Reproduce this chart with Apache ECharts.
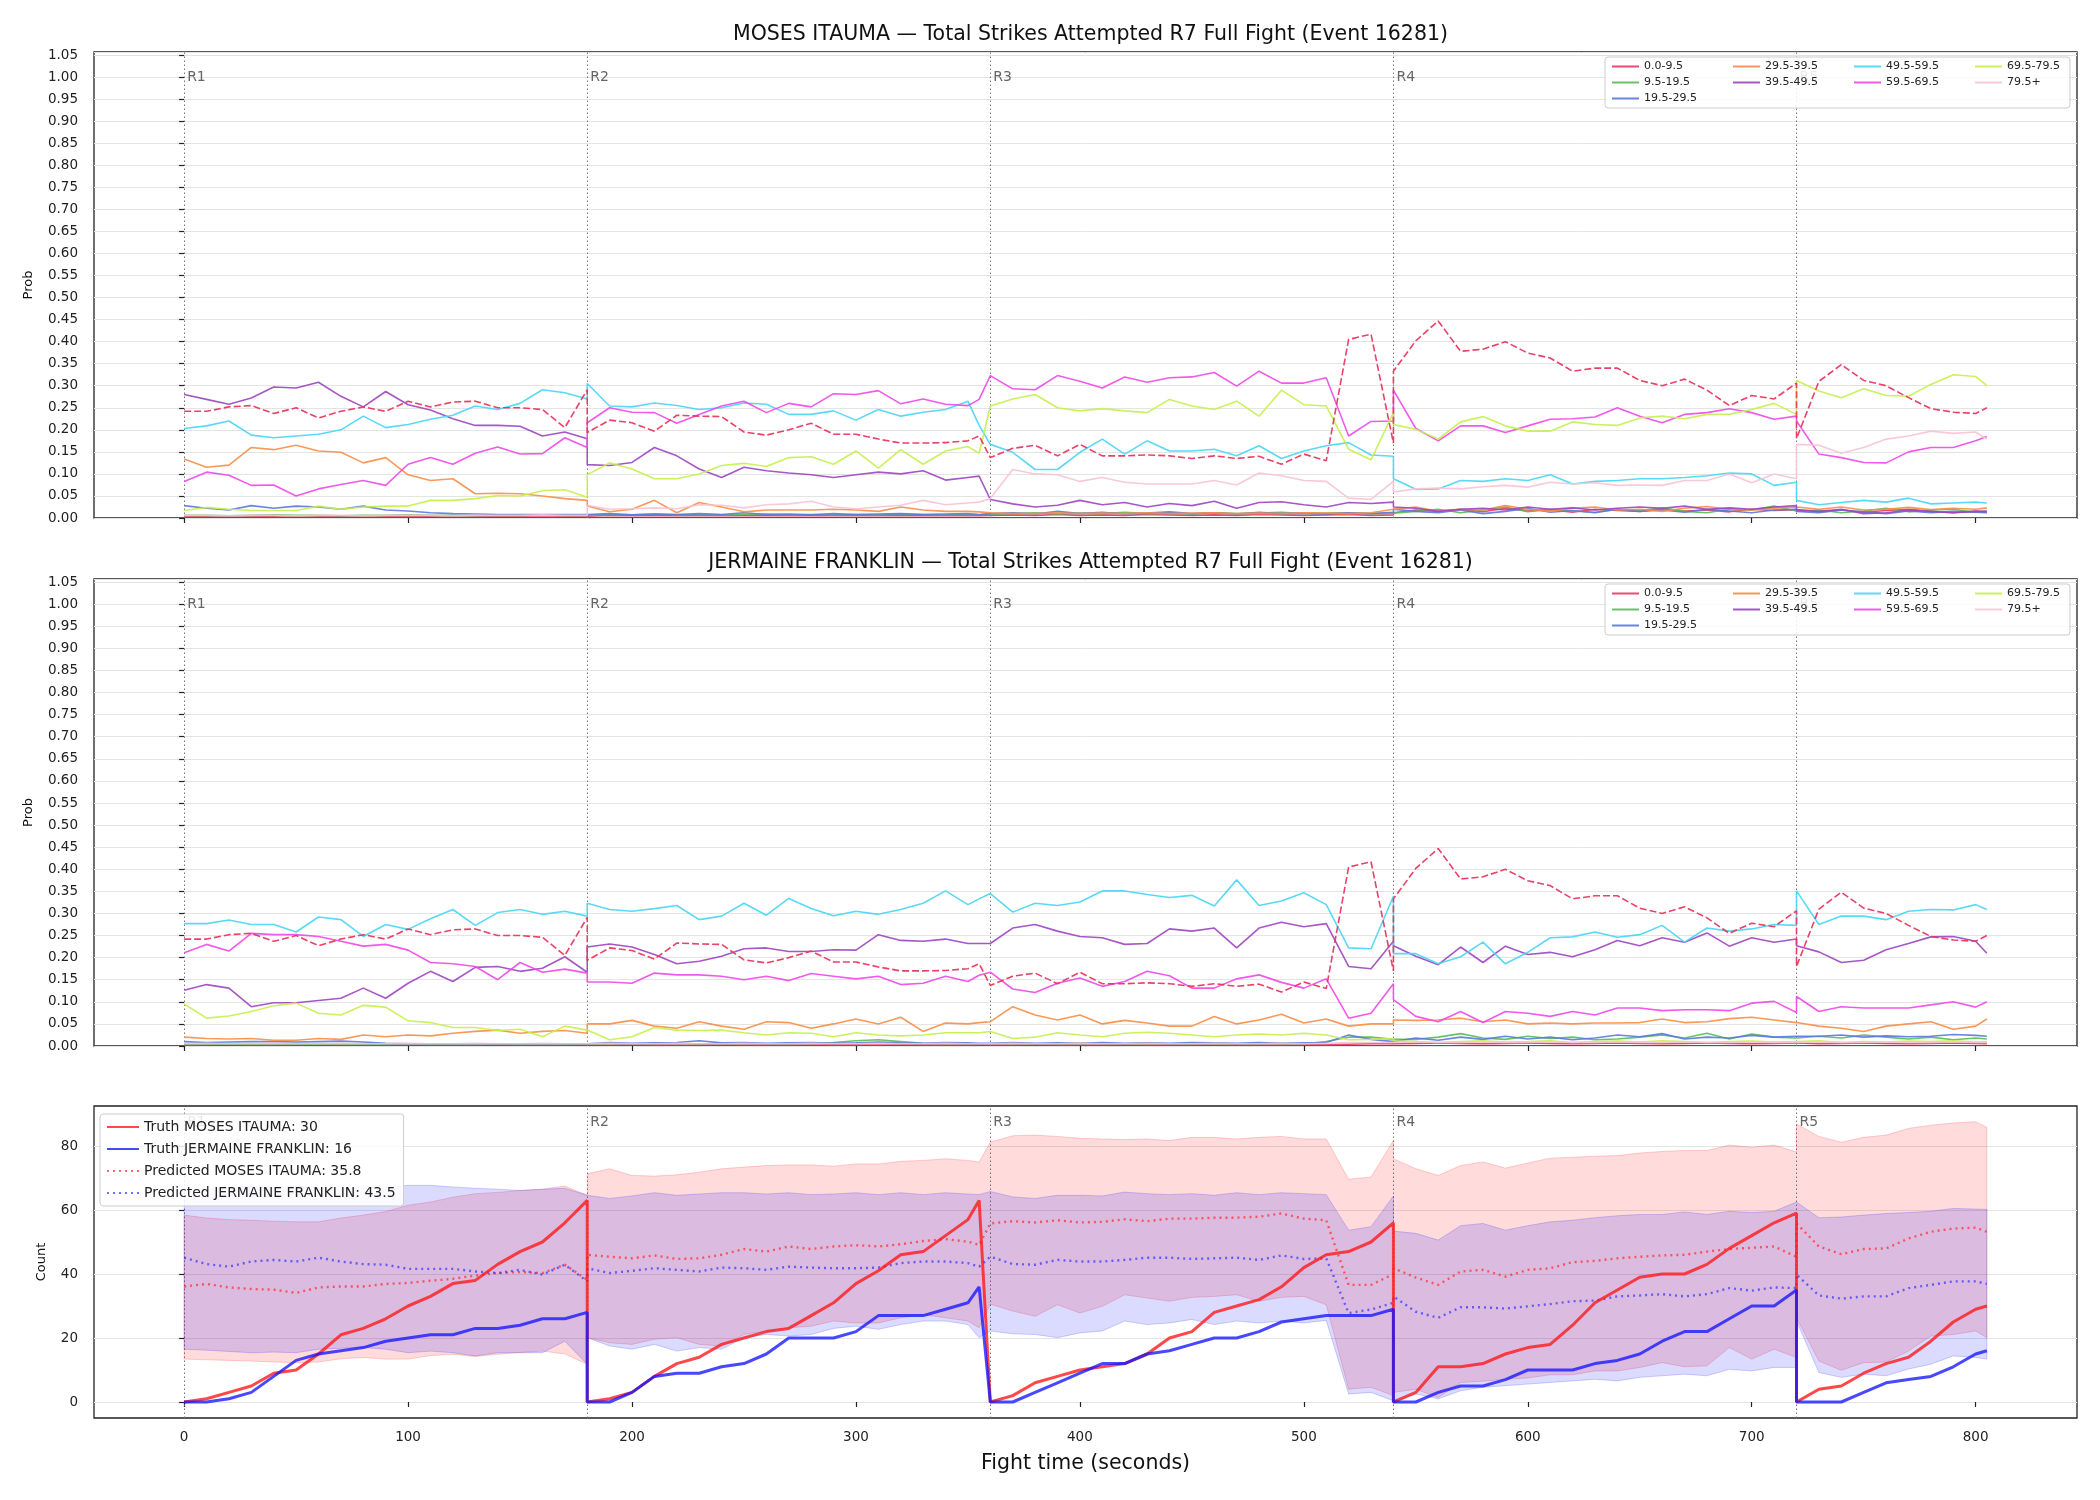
<!DOCTYPE html>
<html>
<head>
<meta charset="utf-8">
<script src="https://cdn.jsdelivr.net/npm/echarts@6/dist/echarts.min.js"></script>
<style>
  html, body { margin: 0; background: #fff; }
  #chart { width: 2100px; height: 1500px; }
</style>
</head>
<body>
<div id="chart"></div>
<script>
// time samples (s); round boundaries repeated so the jumps are vertical
const T = [
  0,10,20,30,40,50,60,70,80,90,100,110,120,130,140,150,160,170,180,
  180,190,200,210,220,230,240,250,260,270,280,290,300,310,320,330,340,350,355,
  360,370,380,390,400,410,420,430,440,450,460,470,480,490,500,510,520,530,540,
  540,550,560,570,580,590,600,610,620,630,640,650,660,670,680,690,700,710,720,
  720,730,740,750,760,770,780,790,800,805
];
const ROUNDS = [0, 180, 360, 540, 720];
const X_TICKS = [0, 100, 200, 300, 400, 500, 600, 700, 800];
const COUNT_TICKS = [0, 20, 40, 60, 80];

const BINS = ['0.0-9.5','9.5-19.5','19.5-29.5','29.5-39.5','39.5-49.5','49.5-59.5','59.5-69.5','69.5-79.5','79.5+'];
const BIN_COLORS = ['#e8375f','#57bd57','#5a78e0','#f98d45','#9d44c0','#48d5f5','#f047e8','#c5ef4a','#f8c3d4'];

// dashed line, same in both probability panels
const dashed = [
  0.242,0.242,0.252,0.255,0.237,0.25,0.227,0.242,0.252,0.242,0.265,0.252,0.263,0.265,0.25,0.25,0.246,0.205,0.291,
  0.194,0.222,0.216,0.197,0.233,0.231,0.23,0.195,0.188,0.2,0.215,0.19,0.19,0.179,0.17,0.17,0.171,0.175,0.186,
  0.137,0.158,0.165,0.141,0.167,0.141,0.141,0.143,0.141,0.135,0.141,0.135,0.14,0.122,0.145,0.13,0.405,0.417,0.17,
  0.333,0.402,0.447,0.378,0.383,0.4,0.374,0.363,0.333,0.34,0.34,0.312,0.3,0.315,0.29,0.255,0.278,0.27,0.306,
  0.18,0.31,0.348,0.312,0.3,0.273,0.248,0.24,0.237,0.25
];

// MOSES ITAUMA bins
const m0 = [
  0.004,0.004,0.005,0.004,0.004,0.005,0.004,0.004,0.005,0.004,0.004,0.004,0.005,0.004,0.004,0.004,0.005,0.004,0.004,
  0.005,0.006,0.005,0.005,0.006,0.005,0.005,0.006,0.005,0.005,0.006,0.005,0.005,0.006,0.005,0.005,0.006,0.005,0.005,
  0.006,0.007,0.006,0.008,0.006,0.007,0.006,0.008,0.007,0.006,0.007,0.006,0.008,0.007,0.006,0.007,0.008,0.006,0.007,
  0.012,0.018,0.015,0.02,0.014,0.022,0.016,0.019,0.013,0.02,0.017,0.015,0.021,0.016,0.018,0.014,0.02,0.017,0.019,
  0.016,0.014,0.018,0.013,0.017,0.02,0.015,0.012,0.016,0.014
];
const m1 = [
  0.006,0.006,0.005,0.006,0.007,0.006,0.006,0.005,0.006,0.006,0.007,0.006,0.006,0.005,0.006,0.006,0.007,0.006,0.006,
  0.007,0.008,0.007,0.009,0.007,0.008,0.007,0.008,0.009,0.007,0.008,0.007,0.008,0.007,0.009,0.008,0.007,0.008,0.007,
  0.009,0.01,0.012,0.009,0.011,0.01,0.013,0.01,0.011,0.009,0.012,0.01,0.011,0.013,0.01,0.011,0.012,0.01,0.011,
  0.01,0.015,0.02,0.012,0.018,0.025,0.014,0.02,0.016,0.013,0.02,0.017,0.023,0.015,0.012,0.02,0.018,0.027,0.016,
  0.02,0.018,0.012,0.016,0.022,0.014,0.018,0.02,0.013,0.015
];
const m2 = [
  0.028,0.022,0.018,0.028,0.022,0.027,0.025,0.02,0.027,0.018,0.016,0.012,0.01,0.009,0.008,0.008,0.008,0.008,0.008,
  0.008,0.01,0.007,0.009,0.008,0.01,0.008,0.012,0.008,0.009,0.007,0.01,0.008,0.009,0.01,0.008,0.009,0.01,0.008,
  0.01,0.012,0.009,0.015,0.01,0.013,0.009,0.011,0.014,0.01,0.012,0.009,0.013,0.01,0.011,0.009,0.012,0.01,0.013,
  0.02,0.015,0.012,0.018,0.01,0.015,0.022,0.013,0.017,0.012,0.02,0.015,0.018,0.013,0.02,0.016,0.012,0.018,0.02,
  0.015,0.012,0.018,0.014,0.01,0.016,0.012,0.015,0.013,0.012
];
const m3 = [
  0.134,0.115,0.12,0.16,0.155,0.165,0.152,0.149,0.125,0.137,0.098,0.085,0.089,0.055,0.056,0.055,0.05,0.044,0.04,
  0.027,0.014,0.02,0.04,0.012,0.035,0.025,0.014,0.018,0.018,0.018,0.02,0.018,0.015,0.025,0.018,0.015,0.015,0.014,
  0.012,0.01,0.01,0.012,0.01,0.011,0.01,0.012,0.01,0.011,0.012,0.01,0.011,0.01,0.012,0.011,0.01,0.012,0.02,
  0.02,0.025,0.015,0.02,0.018,0.028,0.02,0.015,0.022,0.025,0.018,0.02,0.015,0.022,0.026,0.02,0.018,0.022,0.025,
  0.022,0.02,0.025,0.018,0.02,0.024,0.019,0.022,0.02,0.023
];
const m4 = [
  0.28,0.269,0.258,0.272,0.297,0.295,0.308,0.276,0.252,0.287,0.257,0.245,0.225,0.21,0.21,0.208,0.186,0.195,0.18,
  0.121,0.119,0.126,0.16,0.141,0.111,0.092,0.115,0.107,0.102,0.098,0.092,0.098,0.104,0.1,0.107,0.086,0.092,0.095,
  0.042,0.032,0.025,0.029,0.04,0.03,0.035,0.025,0.033,0.028,0.038,0.022,0.035,0.037,0.03,0.025,0.035,0.033,0.036,
  0.025,0.022,0.015,0.02,0.022,0.018,0.025,0.02,0.023,0.018,0.022,0.025,0.022,0.027,0.02,0.023,0.02,0.025,0.028,
  0.018,0.015,0.02,0.01,0.012,0.018,0.015,0.012,0.015,0.015
];
const m5 = [
  0.203,0.209,0.22,0.188,0.182,0.186,0.19,0.2,0.231,0.205,0.212,0.224,0.233,0.254,0.246,0.26,0.291,0.284,0.27,
  0.305,0.254,0.252,0.261,0.255,0.246,0.25,0.261,0.258,0.235,0.235,0.243,0.222,0.246,0.231,0.24,0.246,0.265,0.21,
  0.167,0.149,0.11,0.11,0.149,0.179,0.145,0.175,0.152,0.152,0.156,0.141,0.164,0.135,0.152,0.164,0.171,0.143,0.14,
  0.089,0.065,0.066,0.085,0.083,0.089,0.085,0.098,0.077,0.083,0.085,0.089,0.089,0.092,0.096,0.102,0.1,0.074,0.081,
  0.04,0.03,0.035,0.04,0.036,0.045,0.032,0.034,0.036,0.034
];
const m6 = [
  0.083,0.104,0.097,0.074,0.075,0.05,0.066,0.076,0.085,0.074,0.122,0.137,0.122,0.147,0.161,0.145,0.146,0.182,0.16,
  0.216,0.25,0.24,0.239,0.215,0.235,0.254,0.265,0.239,0.26,0.252,0.282,0.28,0.289,0.259,0.27,0.258,0.255,0.269,
  0.323,0.293,0.291,0.323,0.31,0.295,0.32,0.308,0.318,0.32,0.33,0.299,0.333,0.306,0.306,0.318,0.186,0.219,0.22,
  0.29,0.203,0.175,0.209,0.209,0.194,0.209,0.224,0.225,0.229,0.25,0.231,0.216,0.235,0.239,0.248,0.239,0.224,0.231,
  0.22,0.145,0.137,0.126,0.125,0.15,0.16,0.16,0.175,0.185
];
const m7 = [
  0.017,0.024,0.02,0.017,0.017,0.017,0.027,0.02,0.025,0.027,0.027,0.04,0.04,0.044,0.051,0.05,0.062,0.064,0.047,
  0.098,0.125,0.111,0.089,0.089,0.1,0.119,0.124,0.117,0.137,0.139,0.122,0.152,0.113,0.155,0.122,0.152,0.162,0.147,
  0.254,0.27,0.28,0.25,0.243,0.248,0.243,0.239,0.269,0.254,0.246,0.265,0.231,0.29,0.257,0.254,0.156,0.132,0.239,
  0.212,0.201,0.179,0.218,0.23,0.209,0.197,0.197,0.218,0.212,0.21,0.227,0.231,0.225,0.235,0.235,0.246,0.26,0.235,
  0.312,0.288,0.273,0.293,0.278,0.276,0.303,0.325,0.321,0.3
];
const m8 = [
  0.006,0.006,0.005,0.006,0.006,0.005,0.006,0.006,0.005,0.006,0.006,0.006,0.005,0.006,0.006,0.006,0.007,0.006,0.006,
  0.029,0.02,0.021,0.023,0.021,0.03,0.029,0.023,0.03,0.032,0.038,0.025,0.021,0.025,0.029,0.04,0.03,0.034,0.036,
  0.044,0.11,0.1,0.098,0.083,0.092,0.081,0.077,0.077,0.077,0.085,0.075,0.102,0.096,0.085,0.083,0.045,0.042,0.083,
  0.059,0.066,0.068,0.066,0.071,0.074,0.07,0.081,0.077,0.08,0.074,0.075,0.074,0.085,0.085,0.1,0.08,0.1,0.089,
  0.167,0.165,0.147,0.16,0.179,0.186,0.197,0.192,0.195,0.179
];

// JERMAINE FRANKLIN bins
const f0 = [
  0.003,0.003,0.004,0.003,0.003,0.003,0.004,0.003,0.003,0.003,0.004,0.003,0.003,0.003,0.004,0.003,0.003,0.003,0.004,
  0.003,0.003,0.004,0.003,0.003,0.003,0.004,0.003,0.003,0.003,0.004,0.003,0.003,0.003,0.004,0.003,0.003,0.003,0.004,
  0.003,0.003,0.004,0.003,0.003,0.003,0.004,0.003,0.003,0.003,0.004,0.003,0.003,0.003,0.004,0.003,0.004,0.005,0.005,
  0.005,0.006,0.007,0.006,0.005,0.006,0.007,0.006,0.005,0.006,0.007,0.006,0.005,0.006,0.007,0.006,0.005,0.006,0.007,
  0.006,0.005,0.006,0.007,0.006,0.005,0.006,0.007,0.006,0.005
];
const f1 = [
  0.004,0.004,0.004,0.004,0.004,0.004,0.004,0.004,0.004,0.004,0.004,0.004,0.004,0.004,0.004,0.004,0.004,0.004,0.004,
  0.005,0.005,0.005,0.005,0.005,0.005,0.005,0.005,0.005,0.005,0.005,0.008,0.012,0.014,0.01,0.006,0.005,0.005,0.005,
  0.005,0.006,0.005,0.005,0.006,0.005,0.005,0.006,0.005,0.005,0.006,0.005,0.005,0.006,0.005,0.01,0.02,0.02,0.015,
  0.012,0.015,0.02,0.028,0.018,0.015,0.022,0.017,0.02,0.014,0.016,0.02,0.025,0.018,0.029,0.016,0.027,0.02,0.018,
  0.02,0.022,0.018,0.025,0.02,0.016,0.02,0.014,0.018,0.016
];
const f2 = [
  0.01,0.008,0.009,0.01,0.01,0.009,0.01,0.011,0.009,0.006,0.005,0.005,0.005,0.005,0.005,0.005,0.005,0.005,0.005,
  0.007,0.008,0.006,0.007,0.008,0.012,0.007,0.008,0.006,0.007,0.008,0.006,0.007,0.009,0.007,0.006,0.008,0.007,0.006,
  0.006,0.008,0.006,0.007,0.006,0.008,0.006,0.007,0.006,0.008,0.007,0.006,0.008,0.006,0.007,0.008,0.025,0.015,0.01,
  0.012,0.018,0.013,0.02,0.015,0.022,0.016,0.02,0.014,0.018,0.025,0.021,0.028,0.016,0.02,0.018,0.024,0.02,0.022,
  0.024,0.022,0.025,0.02,0.023,0.021,0.022,0.026,0.024,0.022
];
const f3 = [
  0.02,0.017,0.016,0.017,0.013,0.013,0.017,0.015,0.025,0.021,0.025,0.023,0.029,0.033,0.036,0.029,0.033,0.035,0.029,
  0.05,0.05,0.058,0.045,0.04,0.055,0.045,0.038,0.055,0.053,0.04,0.05,0.061,0.05,0.065,0.033,0.052,0.05,0.053,
  0.055,0.089,0.07,0.059,0.07,0.05,0.058,0.052,0.045,0.045,0.067,0.05,0.059,0.072,0.052,0.061,0.045,0.05,0.05,
  0.059,0.058,0.059,0.063,0.055,0.059,0.05,0.052,0.05,0.052,0.052,0.053,0.061,0.053,0.055,0.062,0.065,0.059,0.053,
  0.05,0.045,0.04,0.033,0.045,0.05,0.055,0.038,0.045,0.061
];
const f4 = [
  0.126,0.139,0.131,0.089,0.098,0.098,0.103,0.108,0.131,0.108,0.142,0.169,0.146,0.178,0.18,0.169,0.176,0.202,0.167,
  0.224,0.231,0.224,0.207,0.186,0.192,0.203,0.22,0.222,0.214,0.214,0.218,0.217,0.252,0.239,0.237,0.242,0.232,0.232,
  0.232,0.267,0.275,0.26,0.248,0.245,0.23,0.232,0.265,0.26,0.267,0.222,0.267,0.28,0.27,0.277,0.18,0.175,0.237,
  0.227,0.203,0.184,0.224,0.189,0.226,0.207,0.212,0.202,0.218,0.239,0.227,0.245,0.235,0.256,0.226,0.245,0.235,0.242,
  0.227,0.213,0.189,0.194,0.218,0.232,0.247,0.248,0.237,0.21
];
const f5 = [
  0.277,0.277,0.285,0.275,0.275,0.258,0.292,0.286,0.248,0.275,0.264,0.288,0.309,0.273,0.302,0.309,0.298,0.305,0.294,
  0.323,0.309,0.305,0.311,0.318,0.286,0.294,0.323,0.296,0.334,0.311,0.295,0.305,0.298,0.309,0.323,0.351,0.32,0.333,
  0.345,0.303,0.323,0.318,0.326,0.351,0.351,0.343,0.336,0.341,0.317,0.376,0.318,0.328,0.347,0.32,0.222,0.22,0.339,
  0.209,0.209,0.186,0.202,0.235,0.186,0.212,0.245,0.247,0.258,0.246,0.252,0.273,0.235,0.267,0.26,0.265,0.275,0.273,
  0.351,0.275,0.294,0.294,0.286,0.305,0.309,0.308,0.32,0.309
];
const f6 = [
  0.211,0.23,0.215,0.255,0.252,0.252,0.248,0.237,0.226,0.23,0.217,0.189,0.186,0.18,0.15,0.189,0.167,0.174,0.165,
  0.145,0.145,0.142,0.165,0.161,0.161,0.158,0.15,0.158,0.148,0.164,0.158,0.152,0.158,0.139,0.142,0.158,0.146,0.16,
  0.167,0.129,0.121,0.142,0.154,0.135,0.146,0.169,0.159,0.131,0.131,0.152,0.161,0.144,0.131,0.152,0.063,0.074,0.141,
  0.105,0.067,0.055,0.078,0.053,0.078,0.074,0.067,0.078,0.07,0.086,0.086,0.08,0.082,0.082,0.08,0.097,0.101,0.076,
  0.112,0.078,0.089,0.086,0.086,0.086,0.093,0.1,0.088,0.1
];
const f7 = [
  0.095,0.063,0.068,0.078,0.091,0.097,0.074,0.07,0.092,0.088,0.057,0.053,0.042,0.042,0.035,0.038,0.021,0.045,0.036,
  0.035,0.014,0.021,0.042,0.036,0.035,0.036,0.03,0.025,0.03,0.029,0.021,0.03,0.025,0.023,0.025,0.03,0.03,0.03,
  0.033,0.017,0.02,0.03,0.025,0.021,0.029,0.031,0.029,0.025,0.021,0.025,0.027,0.025,0.029,0.025,0.014,0.015,0.017,
  0.012,0.01,0.008,0.01,0.012,0.009,0.01,0.012,0.008,0.01,0.011,0.009,0.012,0.01,0.008,0.01,0.011,0.009,0.01,
  0.01,0.012,0.008,0.01,0.009,0.011,0.01,0.012,0.009,0.01
];
const f8 = [
  0.005,0.006,0.005,0.005,0.006,0.005,0.005,0.006,0.005,0.005,0.006,0.005,0.005,0.006,0.005,0.005,0.006,0.005,0.005,
  0.005,0.006,0.005,0.005,0.006,0.005,0.005,0.006,0.005,0.005,0.006,0.005,0.005,0.006,0.005,0.005,0.006,0.005,0.005,
  0.005,0.006,0.005,0.005,0.006,0.005,0.005,0.006,0.005,0.005,0.006,0.005,0.005,0.006,0.005,0.006,0.008,0.008,0.008,
  0.008,0.009,0.008,0.008,0.009,0.008,0.008,0.009,0.008,0.008,0.009,0.008,0.008,0.009,0.008,0.008,0.009,0.008,0.008,
  0.008,0.009,0.008,0.008,0.009,0.008,0.008,0.009,0.008,0.008
];

// count panel
const truthM = [
  0,1,3,5,9,10,15,21,23,26,30,33,37,38,43,47,50,56,63,
  0,1,3,8,12,14,18,20,22,23,27,31,37,41,46,47,52,57,63,
  0,2,6,8,10,11,12,15,20,22,28,30,32,36,42,46,47,50,56,
  0,3,11,11,12,15,17,18,24,31,35,39,40,40,43,48,52,56,59,
  0,4,5,9,12,14,19,25,29,30
];
const truthF = [
  0,0,1,3,8,13,15,16,17,19,20,21,21,23,23,24,26,26,28,
  0,0,3,8,9,9,11,12,15,20,20,20,22,27,27,27,29,31,36,
  0,0,3,6,9,12,12,15,16,18,20,20,22,25,26,27,27,27,29,
  0,0,3,5,5,7,10,10,10,12,13,15,19,22,22,26,30,30,35,
  0,0,0,3,6,7,8,11,15,16
];
const predM = [
  36.1,36.9,35.8,35.3,35.1,34.1,35.8,36.1,36.1,36.9,37.2,37.9,38.5,39.5,40.3,40.6,40.3,42.9,38.2,
  46,45.4,44.9,45.8,44.7,44.9,46,47.8,47,48.6,47.8,48.6,49,48.6,49.3,50.3,50.9,50.1,49.1,
  55.8,56.5,56.1,56.8,56.1,56.3,57.1,56.5,57.3,57.3,57.6,57.6,57.9,58.9,57.3,56.8,36.6,36.6,40,
  41.8,38.9,36.6,40.8,41.3,39.2,41.3,41.8,43.7,44.1,44.9,45.4,45.8,46,47,47.8,48.2,48.6,45.4,
  55.8,48.6,46.2,47.8,48,51.1,53.2,54.2,54.5,53.2
];
const predF = [
  45.1,43.1,42.3,43.9,44.4,43.9,45.1,43.9,43.1,42.9,41.6,41.6,41.6,40.8,40.3,41.3,39.8,42.9,37.7,
  41.8,40.3,41,41.8,41.3,40.8,42,41.8,41.3,42.3,42,41.8,41.8,42,43.4,43.9,43.9,43.4,42.3,
  45.4,43.1,42.9,44.4,43.9,43.9,44.4,45.1,45.1,44.7,44.9,45.1,44.4,45.8,44.7,44.9,27.8,28.9,31,
  33,28.2,26.3,29.6,29.6,29.2,29.9,30.6,31.5,31.7,33,33.3,33.7,33,33.7,35.6,34.8,35.8,35.6,
  39.8,33.3,32.3,33,33,35.6,36.6,37.7,37.7,36.9
];
const bandMHi = [
  58.4,57.5,57,56.8,56.5,56.3,56.3,57.5,58.4,59.5,61.5,62.5,64,65.1,65.5,66.1,66.5,67.5,64.6,
  71.3,72.9,70.8,70.6,71,71.8,72.9,73.4,73.9,74.1,74.1,73.7,74.4,74.4,75.2,75.5,76,75.5,75,
  81.2,83.2,83.4,83,82.4,82.2,82,82.2,81.7,82.7,82.7,82.2,82.7,83,82.2,82.2,69.6,70.3,81.7,
  76,72.9,70.8,73.9,75,73.1,74.7,76.2,76.5,76.8,77,77.8,78.3,78.6,78.6,80.3,79.6,80.3,78.1,
  86.9,83,81.2,82.7,83.4,85.5,86.5,87.2,87.6,85.8
];
const bandMLo = [
  13.4,13.2,13,12.8,12.5,12.3,12.5,13.5,13.9,13.4,13.4,14.5,14.9,14.2,14.9,15.5,15.9,15,11.8,
  20.1,18.5,18,19.6,20.1,18,17.5,21.1,22.2,23.2,23.7,25.3,24.7,24.7,26.3,27.3,26.3,25.3,23.2,
  30.6,28.4,26.8,30.4,27.8,29.9,33.5,32.5,31.5,32.7,33,33.5,31.5,32.7,33,30.4,4,4.6,2,
  3,4,1.4,6.1,6.5,7.1,7.5,8.5,8.5,9.7,9.7,10.8,12.3,11,11.3,17,13.4,16.5,13.9,
  26.3,12.8,9.9,12.3,12.5,15.9,20.6,21.1,22.2,20.1
];
const bandFHi = [
  66,66.5,67,67.5,67,67.5,67,66.5,67,67,67.7,67.7,67.2,66.8,66.5,66.1,66.5,66.8,64.6,
  64.6,63.6,64.4,65.4,64.6,65,65.4,65.4,65,65.4,64.8,65,65.4,64.8,65.4,64.8,65.4,65,64.8,
  65.8,64.1,63.6,64.6,64.6,64.4,65.6,65.1,64.8,65.1,64.6,65.4,64.8,65.4,65.1,64.8,53.7,54.8,64.4,
  53.4,52.7,50.6,55.1,55.8,53.7,55.1,56.3,56.8,57.6,58.2,58.6,58.6,59.4,58.6,59.6,59.2,59.6,62.5,
  62.5,57.6,57.8,58.4,58.9,59.2,59.6,60.5,60.3,60.2
];
const bandFLo = [
  16.5,16.2,15.8,15.4,15.6,15.4,16.5,16.8,17,16.5,15.4,15.9,15.4,14.4,15.4,15.4,15.4,19,11.8,
  20.1,17.5,16.5,18,15.9,17,16.5,20.1,21.1,20.6,21.1,23,23.7,22.7,24.2,25.3,25.3,24.2,20.1,
  22.2,21.3,21.1,20.1,21.6,22.2,25.3,24.2,24.7,25.8,24.2,25.3,24.7,25.3,24.7,25.5,2.5,3,0.4,
  0,2.5,1,3.5,4.6,5.1,5.6,6.1,6.6,7.1,6.6,7.7,8.2,8.7,8.2,10.2,9.7,10.8,10.8,
  25.3,9.2,7.7,8.7,8.2,10.3,11.8,14.4,13.9,13.4
];

const FONT = 'DejaVu Sans';
const mBins = [m0, m1, m2, m3, m4, m5, m6, m7, m8];
const fBins = [f0, f1, f2, f3, f4, f5, f6, f7, f8];
const pair = vals => T.map((t, k) => [t, vals[k]]);

const GRIDS = [
  { left: 94, right: 23, top: 52, height: 466 },
  { left: 94, right: 23, top: 579, height: 467 },
  { left: 94, right: 23, top: 1106, height: 312 }
];

function roundMarks(yLabel) {
  return {
    markLine: {
      silent: true, symbol: 'none', animation: false, z: 1,
      label: { show: false },
      lineStyle: { color: '#777', type: [1.5, 2.5], width: 1 },
      data: ROUNDS.map(x => ({ xAxis: x }))
    },
    markPoint: {
      silent: true, symbol: 'circle', symbolSize: 0, animation: false, z: 1,
      label: { show: true, position: 'right', distance: 3, formatter: '{b}', color: '#666', fontSize: 14, fontFamily: FONT },
      data: ROUNDS.map((x, i) => ({ name: 'R' + (i + 1), coord: [x, yLabel] }))
    }
  };
}

const series = [];
[mBins, fBins].forEach((bins, g) => {
  bins.forEach((vals, i) => {
    series.push({
      type: 'line', name: BINS[i], xAxisIndex: g, yAxisIndex: g,
      data: pair(vals), symbol: 'none', z: 3,
      lineStyle: { width: 1.6, color: BIN_COLORS[i], opacity: 0.9 },
      itemStyle: { color: BIN_COLORS[i] }
    });
  });
  series.push(Object.assign({
    type: 'line', name: 'ref' + g, xAxisIndex: g, yAxisIndex: g,
    data: pair(dashed), symbol: 'none', z: 3,
    lineStyle: { width: 1.6, color: '#e8375f', type: [7, 3], opacity: 0.95 },
    itemStyle: { color: '#e8375f' }
  }, roundMarks(1.0)));
});

function band(name, lo, hi, fill, stroke) {
  return {
    type: 'custom', name, xAxisIndex: 2, yAxisIndex: 2, silent: true, clip: true, z: 1,
    data: [[0, 0]],
    renderItem(params, api) {
      const upper = T.map((t, k) => api.coord([t, hi[k]]));
      const lower = T.map((t, k) => api.coord([t, lo[k]])).reverse();
      return { type: 'polygon', shape: { points: upper.concat(lower) }, style: { fill, stroke, lineWidth: 1 } };
    }
  };
}
series.push(band('bandM', bandMLo, bandMHi, 'rgba(255,0,0,0.14)', 'rgba(255,0,0,0.18)'));
series.push(band('bandF', bandFLo, bandFHi, 'rgba(0,0,255,0.14)', 'rgba(0,0,255,0.18)'));

const NAME_TM = 'Truth MOSES ITAUMA: 30';
const NAME_TF = 'Truth JERMAINE FRANKLIN: 16';
const NAME_PM = 'Predicted MOSES ITAUMA: 35.8';
const NAME_PF = 'Predicted JERMAINE FRANKLIN: 43.5';

series.push({
  type: 'line', name: NAME_PM, xAxisIndex: 2, yAxisIndex: 2, data: pair(predM), symbol: 'none', z: 3,
  lineStyle: { width: 2.4, color: 'rgba(255,50,50,0.75)', type: [2, 4] }, itemStyle: { color: 'rgba(255,50,50,0.75)' }
});
series.push({
  type: 'line', name: NAME_PF, xAxisIndex: 2, yAxisIndex: 2, data: pair(predF), symbol: 'none', z: 3,
  lineStyle: { width: 2.4, color: 'rgba(50,50,255,0.7)', type: [2, 4] }, itemStyle: { color: 'rgba(50,50,255,0.7)' }
});
series.push(Object.assign({
  type: 'line', name: NAME_TM, xAxisIndex: 2, yAxisIndex: 2, data: pair(truthM), symbol: 'none', z: 4,
  lineStyle: { width: 3, color: 'rgba(255,20,20,0.78)' }, itemStyle: { color: 'rgba(255,20,20,0.78)' }
}, roundMarks(87.5)));
series.push({
  type: 'line', name: NAME_TF, xAxisIndex: 2, yAxisIndex: 2, data: pair(truthF), symbol: 'none', z: 4,
  lineStyle: { width: 3, color: 'rgba(20,20,255,0.78)' }, itemStyle: { color: 'rgba(20,20,255,0.78)' }
});

const probFmt = v => (Math.abs(v * 20 - Math.round(v * 20)) < 1e-6 ? v.toFixed(2) : '');
const LEG_ORDER = ['0.0-9.5','29.5-39.5','49.5-59.5','69.5-79.5','9.5-19.5','39.5-49.5','59.5-69.5','79.5+','19.5-29.5'];
const LAST_COL = ['69.5-79.5', '79.5+'];

function binLegend(top) {
  return {
    left: 1605, top, width: 470, orient: 'horizontal', data: LEG_ORDER, z: 20,
    itemWidth: 27, itemHeight: 12, itemGap: 5, padding: [4, 10, 4, 6],
    backgroundColor: 'rgba(255,255,255,0.85)', borderColor: '#cccccc', borderWidth: 1, borderRadius: 3,
    itemStyle: { opacity: 0 }, selectedMode: false,
    formatter: n => (LAST_COL.includes(n) ? '{b|' + n + '}' : '{a|' + n + '}'),
    textStyle: {
      fontFamily: FONT, fontSize: 11, color: '#222',
      rich: { a: { width: 83, fontSize: 11, lineHeight: 14, fontFamily: FONT }, b: { fontSize: 11, lineHeight: 14, fontFamily: FONT } }
    }
  };
}

const xAxes = GRIDS.map((g, i) => ({
  type: 'value', gridIndex: i, min: -40.25, max: 845.25,
  axisLine: { show: false },
  axisTick: { show: true, customValues: X_TICKS, length: 5, lineStyle: { color: '#222', width: 1.2 } },
  axisLabel: { show: i === 2, customValues: X_TICKS, fontSize: 13.5, color: '#222', margin: 12, fontFamily: FONT },
  splitLine: { show: false },
  name: i === 2 ? 'Fight time (seconds)' : '', nameLocation: 'middle', nameGap: 35,
  nameTextStyle: { fontSize: 20.5, color: '#111', fontFamily: FONT }
}));

const probY = i => ({
  type: 'value', gridIndex: i, min: 0, max: 1.057, interval: 0.05,
  axisLine: { show: false },
  axisTick: { show: true, length: 5, lineStyle: { color: '#222', width: 1.2 } },
  axisLabel: { formatter: probFmt, fontSize: 13.5, color: '#222', margin: 16, fontFamily: FONT, showMaxLabel: false },
  splitLine: { show: true, lineStyle: { color: '#e4e4e4', width: 1 } },
  name: 'Prob', nameLocation: 'middle', nameGap: 59, nameTextStyle: { fontSize: 13, color: '#111', fontFamily: FONT }
});

const option = {
  animation: false,
  backgroundColor: '#ffffff',
  textStyle: { fontFamily: FONT },
  title: [
    { text: 'MOSES ITAUMA — Total Strikes Attempted R7 Full Fight (Event 16281)', left: 1085.5, top: 19, textAlign: 'center',
      textStyle: { fontSize: 20.5, fontWeight: 'normal', color: '#111', fontFamily: FONT } },
    { text: 'JERMAINE FRANKLIN — Total Strikes Attempted R7 Full Fight (Event 16281)', left: 1085.5, top: 547, textAlign: 'center',
      textStyle: { fontSize: 20.5, fontWeight: 'normal', color: '#111', fontFamily: FONT } }
  ],
  legend: [
    binLegend(57),
    binLegend(584),
    {
      left: 100, top: 1114, orient: 'vertical', data: [NAME_TM, NAME_TF, NAME_PM, NAME_PF], z: 20,
      itemWidth: 32, itemHeight: 12, itemGap: 6, padding: [5, 8, 5, 6],
      backgroundColor: 'rgba(255,255,255,0.85)', borderColor: '#cccccc', borderWidth: 1, borderRadius: 3,
      itemStyle: { opacity: 0 }, selectedMode: false,
      textStyle: { fontFamily: FONT, fontSize: 14, lineHeight: 16, color: '#222' }
    }
  ],
  grid: GRIDS.map(g => Object.assign({ show: true, borderColor: '#222', borderWidth: 1.3, containLabel: false }, g)),
  xAxis: xAxes,
  yAxis: [
    probY(0),
    probY(1),
    {
      type: 'value', gridIndex: 2, min: -5, max: 92.5, interval: 5,
      axisLine: { show: false },
      axisTick: { show: true, customValues: COUNT_TICKS, length: 5, lineStyle: { color: '#222', width: 1.2 } },
      axisLabel: { customValues: COUNT_TICKS, fontSize: 13.5, color: '#222', margin: 16, fontFamily: FONT },
      splitLine: { show: true, lineStyle: { color: '#e4e4e4', width: 1 } },
      name: 'Count', nameLocation: 'middle', nameGap: 46, nameTextStyle: { fontSize: 13, color: '#111', fontFamily: FONT }
    }
  ],
  series
};

const chart = echarts.init(document.getElementById('chart'), null, { renderer: 'canvas' });
chart.setOption(option);
window.addEventListener('resize', chart.resize);
</script>
</body>
</html>
